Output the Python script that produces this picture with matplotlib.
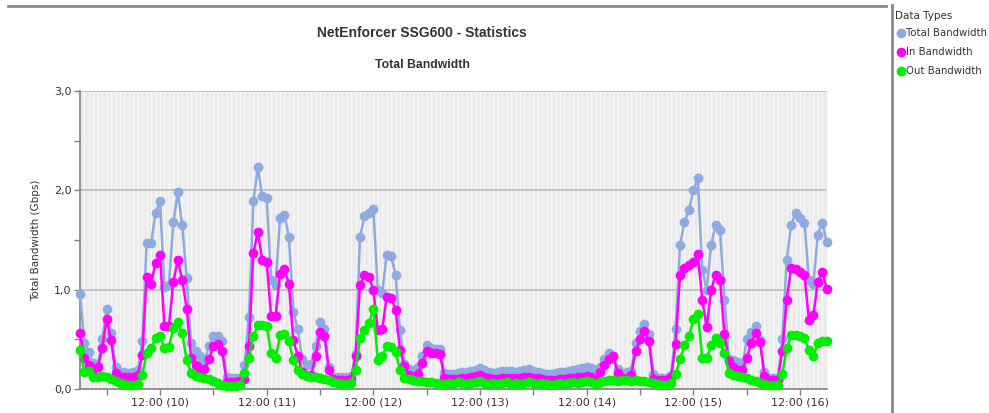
import matplotlib
matplotlib.use("Agg")
import matplotlib.pyplot as plt
from matplotlib.lines import Line2D
import numpy as np

# hours since 09th 18:00, one sample per hour
hours = list(range(169))

total_bw = [
    0.96, 0.46, 0.37, 0.26, 0.24, 0.50, 0.81, 0.56, 0.22, 0.17,
    0.17, 0.16, 0.17, 0.19, 0.48, 1.47, 1.47, 1.77, 1.89, 1.03,
    1.05, 1.68, 1.98, 1.65, 1.12, 0.46, 0.38, 0.33, 0.27, 0.43,
    0.53, 0.53, 0.48, 0.12, 0.11, 0.11, 0.11, 0.24, 0.72, 1.89,
    2.23, 1.94, 1.92, 1.10, 1.05, 1.72, 1.75, 1.53, 0.78, 0.60,
    0.30, 0.24, 0.25, 0.43, 0.67, 0.60, 0.22, 0.12, 0.12, 0.12,
    0.12, 0.13, 0.35, 1.53, 1.74, 1.77, 1.81, 1.00, 0.97, 1.35,
    1.34, 1.15, 0.59, 0.25, 0.20, 0.19, 0.22, 0.33, 0.44, 0.41,
    0.40, 0.40, 0.16, 0.15, 0.15, 0.16, 0.17, 0.17, 0.18, 0.19,
    0.21, 0.19, 0.17, 0.16, 0.17, 0.18, 0.18, 0.18, 0.17, 0.18,
    0.19, 0.20, 0.18, 0.17, 0.16, 0.15, 0.15, 0.16, 0.17, 0.17,
    0.18, 0.19, 0.20, 0.21, 0.22, 0.21, 0.14, 0.22, 0.30, 0.36,
    0.33, 0.20, 0.16, 0.17, 0.18, 0.46, 0.58, 0.65, 0.55, 0.15,
    0.11, 0.11, 0.11, 0.14, 0.60, 1.45, 1.68, 1.80, 2.00, 2.12,
    1.20, 1.00, 1.45, 1.65, 1.60, 0.90, 0.30, 0.29, 0.27, 0.21,
    0.50, 0.57, 0.63, 0.49, 0.17, 0.11, 0.11, 0.11, 0.50, 1.30,
    1.65, 1.77, 1.72, 1.67, 1.10, 1.06, 1.55, 1.67, 1.48,
]

in_bw = [
    0.56, 0.31, 0.24, 0.20, 0.22, 0.41, 0.70, 0.49, 0.16, 0.12,
    0.12, 0.12, 0.12, 0.14, 0.34, 1.13, 1.06, 1.27, 1.35, 0.63,
    0.63, 1.08, 1.30, 1.10, 0.81, 0.31, 0.24, 0.20, 0.20, 0.30,
    0.43, 0.45, 0.38, 0.07, 0.07, 0.07, 0.08, 0.10, 0.43, 1.37,
    1.58, 1.30, 1.28, 0.73, 0.73, 1.16, 1.21, 1.06, 0.49, 0.33,
    0.17, 0.13, 0.14, 0.33, 0.57, 0.53, 0.19, 0.10, 0.09, 0.09,
    0.09, 0.10, 0.33, 1.05, 1.15, 1.13, 1.00, 0.59, 0.60, 0.93,
    0.92, 0.80, 0.39, 0.23, 0.14, 0.12, 0.15, 0.26, 0.38, 0.36,
    0.36, 0.35, 0.11, 0.10, 0.10, 0.10, 0.11, 0.11, 0.12, 0.13,
    0.14, 0.12, 0.11, 0.10, 0.10, 0.11, 0.11, 0.11, 0.11, 0.11,
    0.12, 0.12, 0.11, 0.11, 0.10, 0.09, 0.09, 0.09, 0.10, 0.10,
    0.11, 0.11, 0.12, 0.12, 0.13, 0.12, 0.09, 0.17, 0.24, 0.30,
    0.33, 0.16, 0.11, 0.11, 0.14, 0.38, 0.50, 0.58, 0.48, 0.10,
    0.09, 0.09, 0.09, 0.12, 0.45, 1.15, 1.22, 1.25, 1.28, 1.36,
    0.90, 0.62, 1.00, 1.15, 1.10, 0.55, 0.28, 0.22, 0.19, 0.19,
    0.31, 0.46, 0.56, 0.47, 0.13, 0.09, 0.09, 0.09, 0.38, 0.90,
    1.22, 1.21, 1.18, 1.15, 0.69, 0.74, 1.08, 1.18, 1.01,
]

out_bw = [
    0.39, 0.17, 0.18, 0.12, 0.12, 0.13, 0.12, 0.10, 0.08, 0.06,
    0.05, 0.04, 0.04, 0.05, 0.14, 0.36, 0.41, 0.51, 0.53, 0.41,
    0.42, 0.61, 0.67, 0.56, 0.29, 0.16, 0.13, 0.12, 0.11, 0.10,
    0.08, 0.06, 0.04, 0.03, 0.03, 0.03, 0.04, 0.16, 0.31, 0.53,
    0.64, 0.64, 0.63, 0.36, 0.31, 0.54, 0.55, 0.48, 0.29, 0.19,
    0.15, 0.13, 0.12, 0.12, 0.11, 0.10, 0.09, 0.07, 0.06, 0.05,
    0.05, 0.06, 0.19, 0.51, 0.59, 0.66, 0.81, 0.29, 0.33, 0.43,
    0.42, 0.37, 0.19, 0.11, 0.10, 0.09, 0.08, 0.08, 0.07, 0.07,
    0.06, 0.05, 0.05, 0.06, 0.05, 0.07, 0.06, 0.05, 0.06, 0.07,
    0.08, 0.06, 0.05, 0.06, 0.05, 0.06, 0.07, 0.05, 0.06, 0.05,
    0.06, 0.07, 0.06, 0.05, 0.06, 0.05, 0.04, 0.05, 0.06, 0.05,
    0.06, 0.07, 0.06, 0.07, 0.08, 0.07, 0.05, 0.07, 0.08, 0.09,
    0.09, 0.08, 0.09, 0.09, 0.08, 0.09, 0.08, 0.08, 0.07, 0.06,
    0.05, 0.04, 0.04, 0.06, 0.15, 0.30, 0.44, 0.53, 0.70, 0.76,
    0.31, 0.31, 0.44, 0.51, 0.46, 0.36, 0.16, 0.14, 0.13, 0.12,
    0.11, 0.09, 0.08, 0.06, 0.05, 0.04, 0.04, 0.04, 0.15, 0.41,
    0.54, 0.54, 0.53, 0.51, 0.39, 0.33, 0.46, 0.48, 0.48,
]

series_names = ["Total Bandwidth", "In Bandwidth", "Out Bandwidth"]
series_colors = ["#8eaae0", "#ff00ff", "#00ee00"]

major_tick_hours = [18, 42, 66, 90, 114, 138, 162]
major_tick_labels = ["12:00 (10)", "12:00 (11)", "12:00 (12)", "12:00 (13)",
                     "12:00 (14)", "12:00 (15)", "12:00 (16)"]
minor_tick_hours = [6, 30, 54, 78, 102, 126, 150]
y_ticks = [0.0, 1.0, 2.0, 3.0]
y_tick_labels = ["0,0", "1,0", "2,0", "3,0"]

W, H = 989, 413
fig = plt.figure(figsize=(W / 100, H / 100), dpi=100)
fig.patch.set_facecolor("white")

ax = fig.add_axes([80 / W, (H - 389) / H, (826.7 - 80) / W, (389 - 91) / H])
ax.set_facecolor("#ebebeb")

# hourly vertical stripes
for hh in hours:
    ax.axvline(hh, color="#f8f8f8", lw=0.9, zorder=0.5)
for yv in [1.0, 2.0, 3.0]:
    ax.axhline(yv, color="#bdbdbd", lw=1.2, zorder=0.8)

for vals, col in zip([total_bw, in_bw, out_bw], series_colors):
    ax.plot(hours, vals, color=col, lw=1.8, marker="o", markersize=7,
            markeredgewidth=0, clip_on=False, zorder=3)

ax.set_xlim(0, 168)
ax.set_ylim(0, 3.0)
ax.set_xticks(major_tick_hours)
ax.set_xticklabels(major_tick_labels)
ax.set_xticks(minor_tick_hours, minor=True)
ax.set_yticks(y_ticks)
ax.set_yticklabels(y_tick_labels)
ax.set_yticks([0.5, 1.5, 2.5], minor=True)

for side in ["top", "right"]:
    ax.spines[side].set_visible(False)
for side in ["left", "bottom"]:
    ax.spines[side].set_color("#808080")
    ax.spines[side].set_linewidth(1.2)

ax.tick_params(axis="both", which="both", direction="out", length=4,
               width=1, color="#808080", labelsize=8, labelcolor="#333333")
ax.tick_params(axis="x", which="major", pad=2)
ax.tick_params(axis="y", which="major", pad=2)

ax.set_ylabel("Total Bandwidth (Gbps)", fontsize=7.5, color="#333333", labelpad=9)

fig.text(0.427, 1 - 33 / H, "NetEnforcer SSG600 - Statistics", ha="center",
         va="center", fontsize=10, fontweight="bold", color="#333333",
         family="Liberation Sans")
fig.text(0.427, 1 - 65 / H, "Total Bandwidth", ha="center", va="center",
         fontsize=8.8, fontweight="bold", color="#333333",
         family="Liberation Sans")

# top border line and right separator
fig.add_artist(Line2D([8 / W, 886 / W], [1 - 6 / H, 1 - 6 / H],
                      color="#888888", lw=2))
fig.add_artist(Line2D([891.5 / W, 891.5 / W], [0, 1 - 5 / H],
                      color="#888888", lw=2))

# legend panel
fig.text(895 / W, 1 - 16 / H, "Data Types", ha="left", va="center",
         fontsize=7.5, color="#333333")
for i, (name, col) in enumerate(zip(series_names, series_colors)):
    yy = 1 - (33 + 19 * i) / H
    fig.add_artist(Line2D([900.5 / W], [yy], marker="o", markersize=7,
                          color=col, markeredgewidth=0))
    fig.text(906 / W, yy, name, ha="left", va="center", fontsize=7.3,
             color="#333333")

fig.savefig("out.png", dpi=100)
